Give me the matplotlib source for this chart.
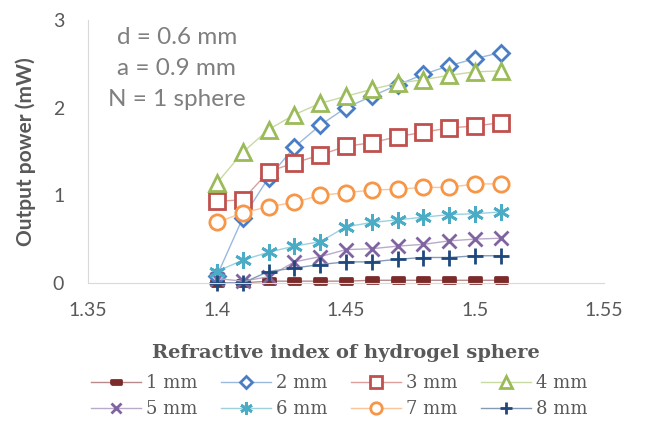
import matplotlib.pyplot as plt
import matplotlib.colors as mcolors
import numpy as np

# refractive index values on the x axis
ri = [1.40, 1.41, 1.42, 1.43, 1.44, 1.45, 1.46, 1.47, 1.48, 1.49, 1.50, 1.51]

# output power (mW) per sphere diameter
p1 = [0.0, 0.0, 0.02, 0.02, 0.02, 0.02, 0.03, 0.03, 0.03, 0.03, 0.03, 0.03]
p2 = [0.08, 0.74, 1.20, 1.55, 1.80, 2.00, 2.13, 2.26, 2.38, 2.48, 2.56, 2.63]
p3 = [0.93, 0.95, 1.27, 1.37, 1.46, 1.56, 1.60, 1.67, 1.72, 1.77, 1.79, 1.83]
p4 = [1.14, 1.49, 1.75, 1.92, 2.05, 2.13, 2.21, 2.28, 2.32, 2.37, 2.41, 2.42]
p5 = [0.05, 0.02, 0.07, 0.24, 0.30, 0.38, 0.39, 0.42, 0.44, 0.48, 0.50, 0.51]
p6 = [0.13, 0.26, 0.35, 0.42, 0.47, 0.64, 0.69, 0.72, 0.75, 0.78, 0.79, 0.81]
p7 = [0.69, 0.80, 0.87, 0.92, 1.00, 1.03, 1.06, 1.07, 1.09, 1.09, 1.13, 1.13]
p8 = [0.0, 0.0, 0.13, 0.17, 0.21, 0.24, 0.24, 0.27, 0.29, 0.29, 0.31, 0.31]

labels = ["1 mm", "2 mm", "3 mm", "4 mm", "5 mm", "6 mm", "7 mm", "8 mm"]
colors = ["#7B2C2A", "#4A7EC4", "#C0504D", "#9BBB59",
          "#8064A2", "#4BACC6", "#F79646", "#1F497D"]

dash = [(-1, -0.45), (1, -0.45), (1, 0.45), (-1, 0.45), (-1, -0.45)]
markers = [dash, "D", "s", "^", "x", (6, 2, 0), "o", "+"]
msizes = [9, 8, 11, 11, 10, 12, 11, 11]
hollow = [False, True, True, True, False, False, True, False]


def tint(c, f=0.45):
    r, g, b = mcolors.to_rgb(c)
    return (r + (1 - r) * f, g + (1 - g) * f, b + (1 - b) * f)


fig = plt.figure(figsize=(6.46, 4.28), dpi=100)
ax = fig.add_axes([0.136, 0.339, 0.799, 0.614])

series = [p1, p2, p3, p4, p5, p6, p7, p8]
handles = []
for y, lab, c, m, ms, h in zip(series, labels, colors, markers, msizes, hollow):
    ln, = ax.plot(ri, y, color=tint(c), lw=1.0, marker=m, ms=ms,
                  mec=c, mfc="white" if h else c, mew=2.0, label=lab,
                  clip_on=False)
    handles.append(ln)

ax.set_xlim(1.35, 1.55)
ax.set_ylim(0, 3)
ax.set_xticks([1.35, 1.4, 1.45, 1.5, 1.55])
ax.set_xticklabels(["1.35", "1.4", "1.45", "1.5", "1.55"])
ax.set_yticks([0, 1, 2, 3])
ax.tick_params(length=0, labelsize=14, colors="#595959")
ax.tick_params(axis="x", pad=14)
ax.tick_params(axis="y", pad=17)
for lab in ax.get_xticklabels() + ax.get_yticklabels():
    lab.set_family("Lato")
for s in ["top", "right"]:
    ax.spines[s].set_visible(False)
for s in ["left", "bottom"]:
    ax.spines[s].set_color("#D9D9D9")

ax.text(0.172, 0.975, "d = 0.6 mm\na = 0.9 mm\nN = 1 sphere", transform=ax.transAxes,
        ha="center", va="top", fontsize=17.5, color="#7F7F7F", family="Lato",
        linespacing=1.6)

ax.set_ylabel("Output power (mW)", fontsize=15, fontweight="bold",
              family="Lato", color="#595959", labelpad=12)
ax.set_xlabel("Refractive index of hydrogel sphere", fontsize=14, fontweight="bold",
              family="DejaVu Serif", color="#595959", labelpad=18)

# legend fills row by row like the original
order = [0, 4, 1, 5, 2, 6, 3, 7]
leg = fig.legend([handles[i] for i in order], [labels[i] for i in order],
                 loc="lower center", bbox_to_anchor=(0.525, -0.015), ncol=4,
                 frameon=False, prop={"family": "DejaVu Serif", "size": 13},
                 handlelength=2.8, columnspacing=1.3, handletextpad=0.25,
                 labelspacing=0.45, markerscale=0.75)
for t in leg.get_texts():
    t.set_color("#595959")

fig.savefig("out.png", dpi=100)
